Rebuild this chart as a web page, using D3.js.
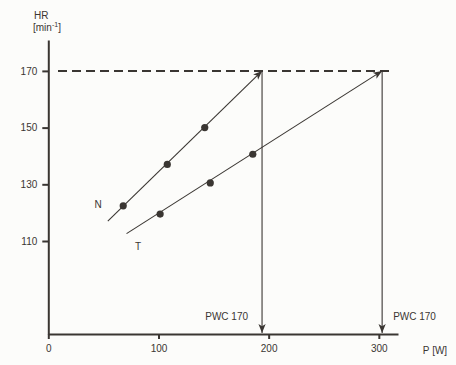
<!DOCTYPE html>
<html><head><meta charset="utf-8">
<script src="https://cdn.jsdelivr.net/npm/d3@7"></script>
<style>
html,body{margin:0;padding:0;background:#fcfcfa;}
svg{display:block;}
text{font-family:"Liberation Sans",Arial,Helvetica,sans-serif;font-size:10px;fill:#3a3632;}
</style></head>
<body>
<svg id="c" width="456" height="365"></svg>
<script>
// Data
const xTicks = [0, 100, 200, 300];
const yTicks = [110, 130, 150, 170];
const seriesNames = ["N", "T"];
const nPointsX = [68, 108, 142];
const nPointsY = [122.4, 137, 150];
const tPointsX = [101.5, 147, 185.6];
const tPointsY = [119.5, 130.5, 140.6];
const nLineX = [54, 194];
const nLineY = [117, 170];
const tLineX = [71, 303];
const tLineY = [112.6, 170];
const pwcValues = [194, 303];
const pwcLevel = 170;
const pwcLabel = "PWC 170";

const ink = "#3a3632";
const svg = d3.select("#c");
const x = d3.scaleLinear().domain([0, 317.4]).range([48.3, 398]);
const y = d3.scaleLinear().domain([77.2, 180.9]).range([334, 40]);

const defs = svg.append("defs");
defs.append("marker").attr("id","arr").attr("viewBox","0 0 10 10")
  .attr("refX",10).attr("refY",5).attr("markerWidth",9).attr("markerHeight",9)
  .attr("markerUnits","userSpaceOnUse").attr("orient","auto")
  .append("path").attr("d","M0,1 L10,5 L0,9 L2.5,5 Z").attr("fill",ink);

// dashed 170 line
svg.append("line").attr("x1", 58).attr("x2", 390)
  .attr("y1", y(pwcLevel)).attr("y2", y(pwcLevel))
  .attr("stroke", ink).attr("stroke-width", 2).attr("stroke-dasharray","9,5");

// axes
const xAxis = d3.axisBottom(x).tickValues(xTicks).tickSize(5).tickSizeOuter(0).tickPadding(6);
const gx = svg.append("g").attr("transform",`translate(0,${y(77.2)})`).call(xAxis);
gx.select(".domain").attr("stroke", ink).attr("stroke-width", 2);
gx.selectAll(".tick line").attr("stroke", ink).attr("stroke-width", 2);
gx.selectAll("text").attr("fill", ink).style("font-size","10px").attr("font-family",null);

const yAxis = d3.axisLeft(y).tickValues(yTicks).tickSize(6).tickSizeOuter(0).tickPadding(5);
const gy = svg.append("g").attr("transform",`translate(${x(0)},0)`).call(yAxis);
gy.select(".domain").attr("stroke", ink).attr("stroke-width", 2);
gy.selectAll(".tick line").attr("stroke", ink).attr("stroke-width", 2);
gy.selectAll("text").attr("fill", ink).style("font-size","10px").attr("font-family",null);

// regression lines with arrows
const lines = [[nLineX, nLineY], [tLineX, tLineY]];
lines.forEach(([lx, ly]) => {
  svg.append("line").attr("x1", x(lx[0])).attr("y1", y(ly[0]))
    .attr("x2", x(lx[1])).attr("y2", y(ly[1]))
    .attr("stroke", ink).attr("stroke-width", 1.1).attr("marker-end","url(#arr)");
});

// vertical drops to PWC
pwcValues.forEach(v => {
  svg.append("line").attr("x1", x(v)).attr("x2", x(v))
    .attr("y1", y(pwcLevel)-1).attr("y2", y(77.2)-1)
    .attr("stroke", ink).attr("stroke-width", 1.1).attr("marker-end","url(#arr)");
  svg.append("text").attr("x", x(v) - 14).attr("y", 320).attr("text-anchor","end").text(pwcLabel);
});
// adjust: second label sits right of the line
svg.selectAll("text").filter(function(){return this.textContent===pwcLabel;})
  .each(function(d,i){ if(i===1){ d3.select(this).attr("x", x(pwcValues[1]) + 11).attr("text-anchor","start"); } });

// points
const pts = nPointsX.map((v,i)=>[v,nPointsY[i]]).concat(tPointsX.map((v,i)=>[v,tPointsY[i]]));
svg.selectAll("circle.p").data(pts).enter().append("circle")
  .attr("cx", d=>x(d[0])).attr("cy", d=>y(d[1])).attr("r", 3.6).attr("fill", ink);

// series labels
svg.append("text").attr("x", 98).attr("y", 208).attr("text-anchor","middle").text(seriesNames[0]);
svg.append("text").attr("x", 138).attr("y", 250).attr("text-anchor","middle").text(seriesNames[1]);

// axis titles
svg.append("text").attr("x", 34).attr("y", 19).text("HR");
const t2 = svg.append("text").attr("x", 33).attr("y", 31);
t2.append("tspan").text("[min");
t2.append("tspan").attr("dy",-4).style("font-size","7px").text("-1");
t2.append("tspan").attr("dy",4).text("]");
svg.append("text").attr("x", 435).attr("y", 354).attr("text-anchor","middle").text("P [W]");
</script>
</body></html>
